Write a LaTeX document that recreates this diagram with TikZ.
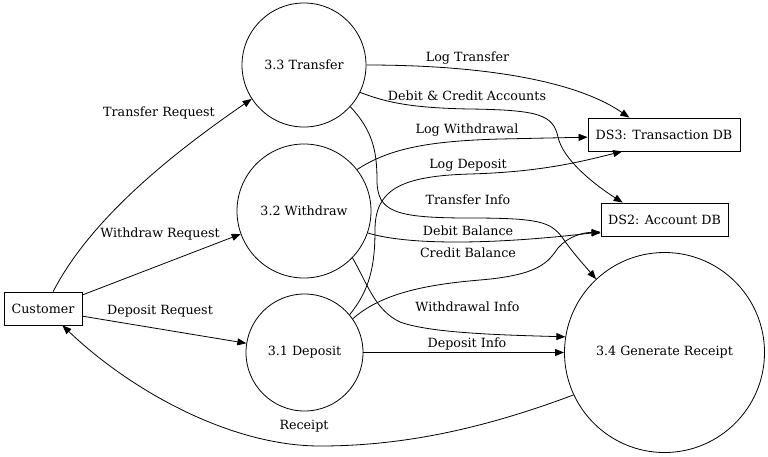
\documentclass[tikz,border=0pt]{standalone}
\usepackage{fontspec}
\setmainfont{DejaVu Serif}
\usetikzlibrary{arrows.meta}
\begin{document}
\begin{tikzpicture}[x=1pt,y=-1pt,
  every node/.style={font=\fontsize{12.7pt}{15pt}\selectfont},
  proc/.style={circle,draw,line width=0.8pt,inner sep=0pt},
  store/.style={rectangle,draw,line width=0.8pt,inner sep=0pt,minimum height=33pt},
  flow/.style={draw,line width=0.8pt,-{Triangle[length=9pt,width=7pt]}},
  lbl/.style={inner sep=1pt}]
\useasboundingbox (0,0) rectangle (768,456);
% nodes
\node[store,minimum width=78pt] (cust) at (43,308.5) {Customer};
\node[proc,minimum size=124pt] (t33) at (304,65) {3.3 Transfer};
\node[proc,minimum size=134pt] (w32) at (304,211) {3.2 Withdraw};
\node[proc,minimum size=117pt] (d31) at (304.5,352.5) {3.1 Deposit};
\node[proc,minimum size=200pt] (g34) at (664.5,352.5) {3.4 Generate Receipt};
\node[store,minimum width=152pt] (ds3) at (664,134.5) {DS3: Transaction DB};
\node[store,minimum width=127pt] (ds2) at (664.5,219.5) {DS2: Account DB};
% connectors
\draw[flow] (cust.59) .. controls (90,220) and (170,155) .. (t33.-147);
\draw[flow] (cust.19) -- (w32.-160);
\draw[flow] (cust.-11) -- (d31.171);
\draw[flow] (g34.-155) .. controls (480,430) and (400,446) .. (320,446) .. controls (230,446) and (130,390) .. (cust.-41);
\draw[flow] (t33.0) .. controls (480,65) and (575,80) .. (ds3.154);
\draw[flow] (t33.-26) .. controls (385,102) and (410,108) .. (470,109) .. controls (540,110) and (553,115) .. (558,137) .. controls (563,160) and (595,185) .. (ds2.158);
\draw[flow] (t33.-42) .. controls (372,130) and (377,150) .. (377,180) .. controls (377,212) and (395,218) .. (470,218) .. controls (540,218) and (550,222) .. (562,237) .. controls (572,252) and (585,266) .. (g34.133);
\draw[flow] (w32.38) .. controls (390,148) and (430,141) .. (500,139) -- (ds3.182);
\draw[flow] (w32.-19) .. controls (410,246) and (500,244) .. (ds2.191);
\draw[flow] (w32.-44) .. controls (368,285) and (375,310) .. (400,322) .. controls (430,333) and (500,335) .. (g34.171);
\draw[flow] (d31.40) .. controls (370,290) and (375,265) .. (375,230) .. controls (375,190) and (400,176) .. (470,174) .. controls (540,172) and (580,162) .. (ds3.202);
\draw[flow] (d31.35) .. controls (380,295) and (420,285) .. (480,280) .. controls (540,275) and (548,262) .. (558,248) .. controls (568,236) and (585,232) .. (ds2.192);
\draw[flow] (d31.0) -- (g34.180);
% labels
\node[lbl] (lTR) at (159,113) {Transfer Request};
\node[lbl] (lWR) at (160,234) {Withdraw Request};
\node[lbl] (lDR) at (160,311) {Deposit Request};
\node[lbl] (lRc) at (304,426) {Receipt};
\node[lbl] (lLT) at (467.5,58) {Log Transfer};
\node[lbl] (lDC) at (467,96) {Debit \& Credit Accounts};
\node[lbl] (lLW) at (467,130) {Log Withdrawal};
\node[lbl] (lLD) at (468,165) {Log Deposit};
\node[lbl] (lTI) at (468,200) {Transfer Info};
\node[lbl] (lDB) at (468,231) {Debit Balance};
\node[lbl] (lCB) at (468,253) {Credit Balance};
\node[lbl] (lWI) at (467.5,307) {Withdrawal Info};
\node[lbl] (lDI) at (467,344) {Deposit Info};
\end{tikzpicture}
\end{document}
